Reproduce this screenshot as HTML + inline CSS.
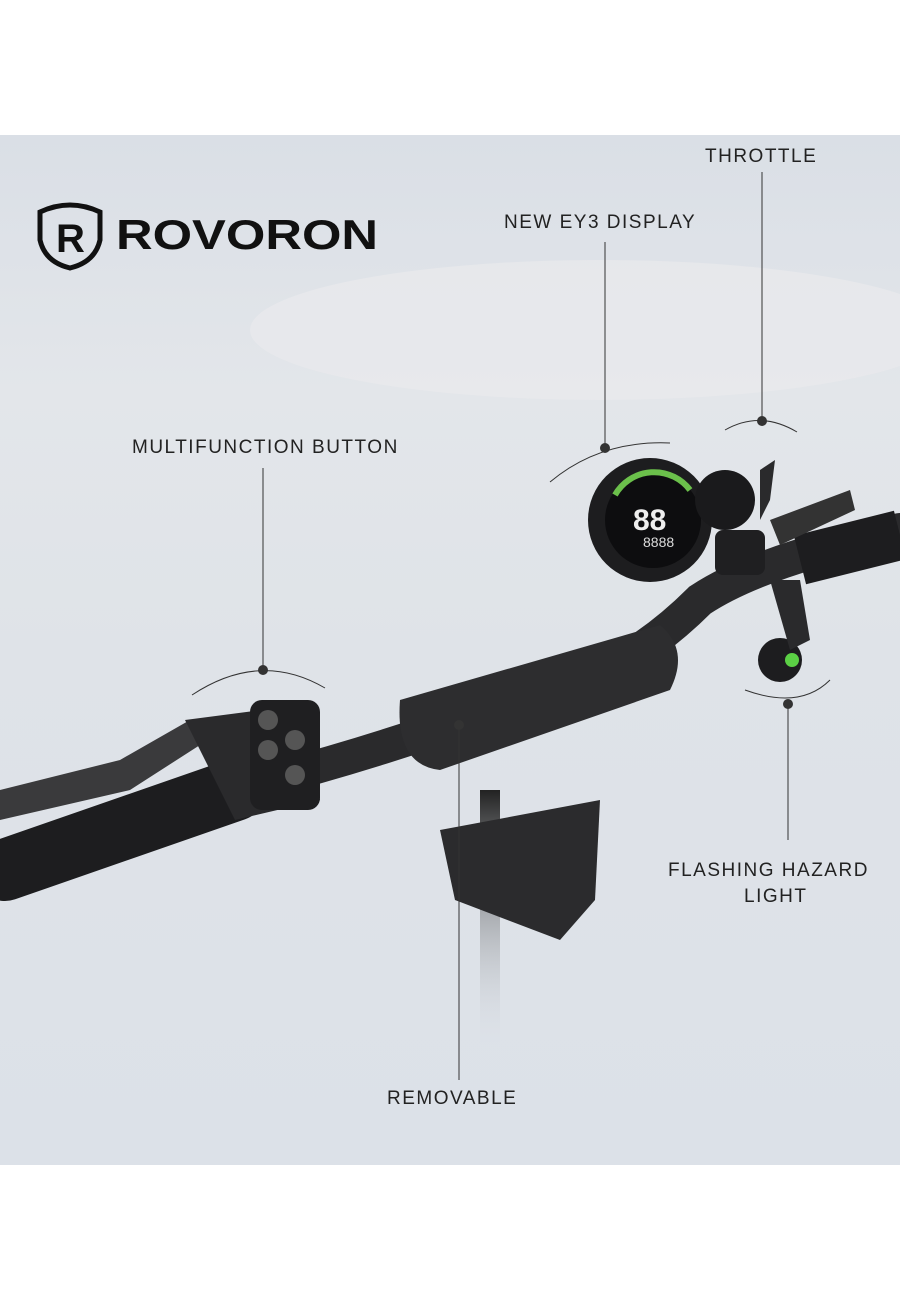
<!DOCTYPE html>
<html><head><style>
html,body{margin:0;padding:0;background:#fff}
#w{position:relative;width:900px;height:1300px;overflow:hidden;background:#fff;font-family:"Liberation Sans",sans-serif}
svg{position:absolute;left:0;top:0}
.t{font-family:"Liberation Sans",sans-serif;font-size:19px;letter-spacing:1.5px;fill:#222}
</style></head><body><div id="w">
<svg width="900" height="1300" viewBox="0 0 900 1300">
<defs>
<linearGradient id="bg" x1="0" y1="0" x2="0" y2="1">
<stop offset="0" stop-color="#dadfe6"/><stop offset="0.25" stop-color="#e3e6ea"/><stop offset="0.5" stop-color="#dfe3e8"/><stop offset="1" stop-color="#dce1e8"/></linearGradient>
<linearGradient id="stem" x1="0" y1="0" x2="0" y2="1"><stop offset="0" stop-color="#222"/><stop offset="1" stop-color="#dde1e7" stop-opacity="0"/></linearGradient>
</defs>
<rect x="0" y="135" width="900" height="1030" fill="url(#bg)"/>
<ellipse cx="600" cy="330" rx="350" ry="70" fill="#e9eaec" opacity="0.7"/>
<!-- logo -->
<path d="M40 212 Q70 198 100 212 L100 240 Q95 262 70 268 Q45 262 40 240 Z" fill="none" stroke="#111" stroke-width="5"/>
<text x="56" y="252" font-size="40" font-weight="bold" fill="#111" font-family="Liberation Sans">R</text>
<text x="116" y="249" font-size="42" font-weight="bold" fill="#111" font-family="Liberation Sans" textLength="262" lengthAdjust="spacingAndGlyphs">ROVORON</text>
<!-- stem -->
<rect x="480" y="790" width="20" height="260" fill="url(#stem)"/>
<path d="M440 830 L600 800 L595 900 L560 940 L455 900 Z" fill="#2b2b2d"/>
<!-- handlebar -->
<path d="M230 790 Q330 765 420 735 L520 700 Q620 680 700 600 Q760 560 900 530" fill="none" stroke="#2a2a2c" stroke-width="34" stroke-linecap="round"/>
<path d="M5 870 L235 790" stroke="#1d1d1f" stroke-width="62" stroke-linecap="round"/>
<path d="M800 560 L900 535" stroke="#1d1d1f" stroke-width="50"/>
<!-- brake lever left -->
<path d="M0 790 L120 760 L190 720 L200 745 L130 790 L0 820 Z" fill="#3a3a3c"/>
<path d="M185 720 L300 705 L320 800 L235 820 Z" fill="#2a2a2c"/>
<rect x="250" y="700" width="70" height="110" rx="12" fill="#1f1f21"/>
<circle cx="268" cy="720" r="10" fill="#555"/><circle cx="268" cy="750" r="10" fill="#555"/><circle cx="295" cy="740" r="10" fill="#555"/><circle cx="295" cy="775" r="10" fill="#555"/>
<!-- battery cylinder -->
<path d="M400 700 L660 625 Q690 650 670 690 L440 770 Q395 765 400 700 Z" fill="#2d2d2f"/>
<!-- display -->
<circle cx="650" cy="520" r="62" fill="#1d1d1f"/>
<circle cx="653" cy="520" r="48" fill="#0d0d0f"/>
<path d="M615 495 A45 45 0 0 1 690 490" stroke="#6bc04b" stroke-width="6" fill="none"/>
<text x="633" y="530" font-size="30" fill="#eee" font-family="Liberation Sans" font-weight="bold">88</text>
<text x="643" y="547" font-size="14" fill="#ddd" font-family="Liberation Sans">8888</text>
<circle cx="725" cy="500" r="30" fill="#1a1a1c"/>
<rect x="715" y="530" width="50" height="45" rx="8" fill="#1f1f21"/>
<path d="M760 470 L775 460 L770 500 L760 520Z" fill="#2a2a2c"/>
<path d="M770 520 L850 490 L855 510 L780 545Z" fill="#333"/>
<circle cx="780" cy="660" r="22" fill="#1d1d1f"/><circle cx="792" cy="660" r="7" fill="#5bd045"/>
<path d="M770 580 L800 580 L810 640 L790 650Z" fill="#2a2a2c"/>
<!-- callouts -->
<g stroke="#333" stroke-width="1" fill="none">
<line x1="263" y1="468" x2="263" y2="670"/>
<path d="M192 695 Q260 650 325 688"/>
<line x1="605" y1="242" x2="605" y2="448"/>
<path d="M550 482 Q600 440 670 443"/>
<line x1="762" y1="172" x2="762" y2="420"/>
<path d="M725 430 Q760 410 797 432"/>
<line x1="788" y1="705" x2="788" y2="840"/>
<path d="M745 690 Q800 710 830 680"/>
<line x1="459" y1="725" x2="459" y2="1080"/>
</g>
<g fill="#333"><circle cx="263" cy="670" r="5"/><circle cx="605" cy="448" r="5"/><circle cx="762" cy="421" r="5"/><circle cx="788" cy="704" r="5"/><circle cx="459" cy="725" r="5"/></g>
<text class="t" x="705" y="162">THROTTLE</text>
<text class="t" x="504" y="228">NEW EY3 DISPLAY</text>
<text class="t" x="132" y="453">MULTIFUNCTION BUTTON</text>
<text class="t" x="668" y="876">FLASHING HAZARD</text>
<text class="t" x="744" y="902">LIGHT</text>
<text class="t" x="387" y="1104">REMOVABLE</text>
</svg>
</div></body></html>
